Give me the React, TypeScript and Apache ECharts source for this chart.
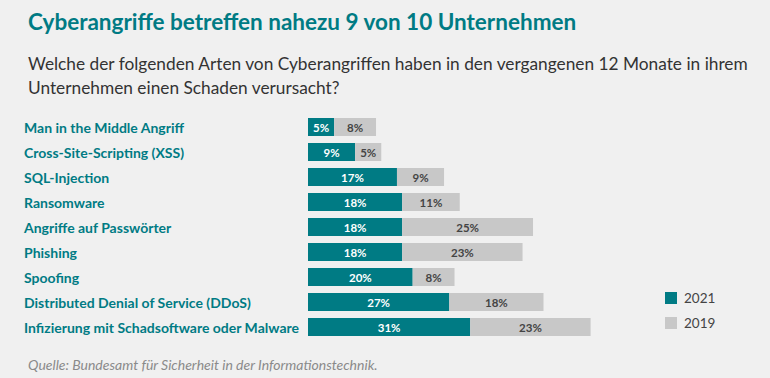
import React, { useEffect, useRef } from "react";
import * as echarts from "echarts";

const categories = [
  "Man in the Middle Angriff",
  "Cross-Site-Scripting (XSS)",
  "SQL-Injection",
  "Ransomware",
  "Angriffe auf Passwörter",
  "Phishing",
  "Spoofing",
  "Distributed Denial of Service (DDoS)",
  "Infizierung mit Schadsoftware oder Malware",
];
const values2021 = [5, 9, 17, 18, 18, 18, 20, 27, 31];
const values2019 = [8, 5, 9, 11, 25, 23, 8, 18, 23];
const seriesNames = ["2021", "2019"];

const TEAL = "#007b84";
const GREY = "#c8c8c8";
const FONT = "Lato";

export default function App() {
  const ref = useRef<HTMLDivElement>(null);
  useEffect(() => {
    if (!ref.current) return;
    const chart = echarts.init(ref.current, null, { renderer: "svg" });
    chart.setOption({
      animation: false,
      backgroundColor: "#f0f0f0",
      textStyle: { fontFamily: FONT },
      title: [
        {
          text: "Cyberangriffe betreffen nahezu 9 von 10 Unternehmen",
          left: 23,
          top: 5,
          textStyle: { color: TEAL, fontSize: 22.5, fontWeight: "bold", fontFamily: FONT },
        },
        {
          text: "Welche der folgenden Arten von Cyberangriffen haben in den vergangenen 12 Monate in ihrem\nUnternehmen einen Schaden verursacht?",
          left: 23,
          top: 46,
          textStyle: { color: "#333", fontSize: 17.3, fontWeight: "normal", lineHeight: 24, fontFamily: FONT },
        },
        {
          text: "Quelle: Bundesamt für Sicherheit in der Informationstechnik.",
          left: 23,
          top: 352,
          textStyle: { color: "#8a8a8a", fontSize: 14, fontStyle: "italic", fontWeight: "normal", fontFamily: FONT },
        },
      ],
      legend: {
        orient: "vertical",
        left: 660,
        top: 286,
        itemWidth: 12,
        itemHeight: 12,
        itemGap: 11,
        icon: "rect",
        data: seriesNames,
        textStyle: { color: "#444", fontSize: 13.5, fontFamily: FONT, padding: [0, 0, 0, 2] },
      },
      grid: { left: 308, top: 114.5, height: 225, width: 314 },
      xAxis: { type: "value", min: 0, max: 60, show: false },
      yAxis: {
        type: "category",
        data: categories,
        inverse: true,
        axisLine: { show: false },
        axisTick: { show: false },
        splitLine: { show: false },
        axisLabel: {
          align: "left",
          margin: 284,
          color: TEAL,
          fontWeight: "bold",
          fontSize: 14,
          fontFamily: FONT,
        },
      },
      series: [
        {
          name: seriesNames[0],
          type: "bar",
          stack: "total",
          barWidth: 18,
          data: values2021,
          itemStyle: { color: TEAL },
          label: {
            show: true,
            position: "inside",
            formatter: "{c}%",
            color: "#fff",
            fontWeight: "bold",
            fontSize: 11.5,
            fontFamily: FONT,
          },
        },
        {
          name: seriesNames[1],
          type: "bar",
          stack: "total",
          barWidth: 18,
          data: values2019,
          itemStyle: { color: GREY },
          label: {
            show: true,
            position: "inside",
            formatter: "{c}%",
            color: "#444",
            fontWeight: "bold",
            fontSize: 11.5,
            fontFamily: FONT,
          },
        },
      ],
    });
    return () => chart.dispose();
  }, []);
  return (
    <div
      ref={ref}
      style={{ position: "fixed", left: 0, top: 0, width: 770, height: 378 }}
    />
  );
}
